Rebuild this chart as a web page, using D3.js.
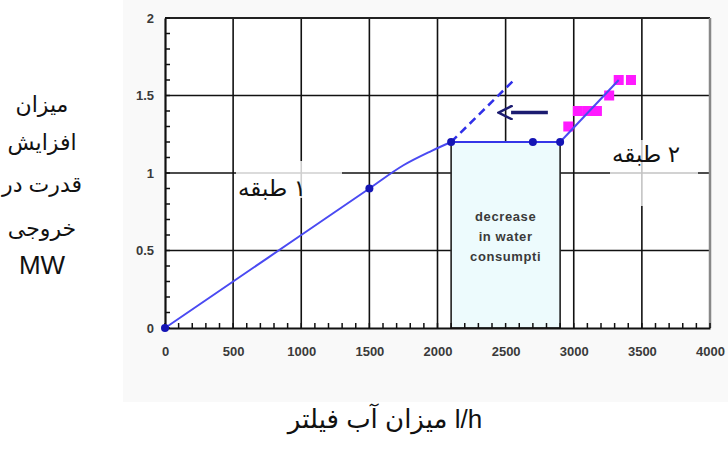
<!DOCTYPE html>
<html><head><meta charset="utf-8">
<script src="https://cdn.jsdelivr.net/npm/d3@7"></script>
<style>body{margin:0;background:#fff}</style>
</head><body>
<svg id="c" width="728" height="450"></svg>
<script>
// ---- data ----
const xTicks = [0,500,1000,1500,2000,2500,3000,3500,4000];
const yTicks = [0,0.5,1,1.5,2];
const yTickLabels = ["0","0.5","1","1.5","2"];
const stage1X = [0,500,1000,1500,1750,1950,2100];
const stage1Y = [0,0.3,0.6,0.9,1.05,1.14,1.2];
const stage1MarkX = [0,1500,2100];
const stage1MarkY = [0,0.9,1.2];
const dashedX = [2100,2550];
const dashedY = [1.2,1.59];
const plateauX = [2100,2900];
const plateauY = [1.2,1.2];
const plateauMarkX = [2700,2900];
const plateauMarkY = [1.2,1.2];
const stage2X = [2900,3330];
const stage2Y = [1.2,1.6];
const squaresX = [2960,3030,3100,3170,3260,3330,3420];
const squaresY = [1.3,1.4,1.4,1.4,1.5,1.6,1.6];
const boxRange = [2100,2900];
const boxTop = 1.2;
const arrowX = [2810,2540];
const arrowY = [1.39,1.39];
const boxText = ["decrease","in water","consumpti"];
const stage1Label = "۱ طبقه";
const stage2Label = "۲ طبقه";
const yTitle = ["میزان","افزایش","قدرت در","خروجی","MW"];
const xTitle = "میزان آب فیلتر l/h";

const svg = d3.select("#c");
const x = d3.scaleLinear().domain([0,4000]).range([165,710]);
const y = d3.scaleLinear().domain([0,2]).range([328,18]);
const sans = "Liberation Sans, Arial, sans-serif";
const farsi = "Liberation Sans, DejaVu Sans, sans-serif";

// background
svg.append("rect").attr("x",123).attr("y",0).attr("width",605).attr("height",402).attr("fill","#f9f9f9");
svg.append("rect").attr("x",x(0)).attr("y",y(2)).attr("width",x(4000)-x(0)).attr("height",y(0)-y(2)).attr("fill","#fff");

// grid
const g = svg.append("g");
g.selectAll(".vg").data(xTicks.filter(d=>d>0&&d<4000)).enter().append("line")
  .attr("x1",d=>x(d)).attr("x2",d=>x(d)).attr("y1",y(0)).attr("y2",y(2))
  .attr("stroke","#111").attr("stroke-width",1.6);
g.selectAll(".hg").data(yTicks.filter(d=>d>0&&d<2)).enter().append("line")
  .attr("x1",x(0)).attr("x2",x(4000)).attr("y1",d=>y(d)).attr("y2",d=>y(d))
  .attr("stroke","#111").attr("stroke-width",1.6);

// box
svg.append("rect").attr("x",x(boxRange[0])).attr("y",y(boxTop))
  .attr("width",x(boxRange[1])-x(boxRange[0])).attr("height",y(0)-y(boxTop))
  .attr("fill","#edfbfd").attr("stroke","#222").attr("stroke-width",1.6);
svg.append("g").selectAll("text").data(boxText).enter().append("text")
  .attr("x",(x(boxRange[0])+x(boxRange[1]))/2).attr("y",(d,i)=>221+i*20)
  .attr("text-anchor","middle").attr("font-family",sans)
  .attr("font-size",13).attr("font-weight","bold").attr("letter-spacing",0.6).attr("fill","#3a3a3a").text(d=>d);

// label backgrounds (fade grid)
svg.append("rect").attr("x",236).attr("y",161).attr("width",106).attr("height",37).attr("fill","#fff").attr("opacity",0.8);
svg.append("rect").attr("x",610).attr("y",140).attr("width",88).attr("height",66).attr("fill","#fff").attr("opacity",0.75);

// frame
svg.append("line").attr("x1",x(0)).attr("x2",x(4000)).attr("y1",y(2)).attr("y2",y(2)).attr("stroke","#222").attr("stroke-width",2);
svg.append("line").attr("x1",x(4000)).attr("x2",x(4000)).attr("y1",y(2)).attr("y2",y(0)).attr("stroke","#888").attr("stroke-width",2.5);

// axes
const yAxis = d3.axisLeft(y).tickValues(yTicks).tickFormat((d,i)=>yTickLabels[i]).tickSize(0).tickPadding(11);
const ya = svg.append("g").attr("transform",`translate(${x(0)},0)`).call(yAxis);
ya.select(".domain").attr("stroke","#111").attr("stroke-width",2.2);
ya.selectAll("text").attr("font-family",sans).attr("font-size",13).attr("font-weight","bold").attr("fill","#3a3a3a");
const xAxis = d3.axisBottom(x).tickValues(xTicks).tickFormat(d3.format("d")).tickSize(0).tickPadding(19);
const xa = svg.append("g").attr("transform",`translate(0,${y(0)})`).call(xAxis);
xa.select(".domain").attr("stroke","#111").attr("stroke-width",2.2);
xa.selectAll("text").attr("font-family",sans).attr("font-size",13).attr("font-weight","bold").attr("fill","#3a3a3a");

// minor ticks
svg.append("g").selectAll("line").data(d3.range(0,4001,100)).enter().append("line")
  .attr("x1",d=>x(d)).attr("x2",d=>x(d)).attr("y1",y(0)).attr("y2",y(0)-5)
  .attr("stroke","#111").attr("stroke-width",1.5);
svg.append("g").selectAll("line").data(d3.range(0,21).map(i=>i/10)).enter().append("line")
  .attr("x1",x(0)).attr("x2",x(0)+5).attr("y1",d=>y(d)).attr("y2",d=>y(d))
  .attr("stroke","#111").attr("stroke-width",1.5);

// lines
const lineGen = d3.line().x(d=>x(d[0])).y(d=>y(d[1]));
const blue = "#4a4af2";
svg.append("path").datum(d3.zip(stage1X,stage1Y)).attr("d",lineGen.curve(d3.curveMonotoneX))
  .attr("fill","none").attr("stroke",blue).attr("stroke-width",2);
lineGen.curve(d3.curveLinear);
svg.append("path").datum(d3.zip(dashedX,dashedY)).attr("d",lineGen)
  .attr("fill","none").attr("stroke","#3030e8").attr("stroke-width",2.5).attr("stroke-dasharray","8,5");
svg.append("path").datum(d3.zip(plateauX,plateauY)).attr("d",lineGen)
  .attr("fill","none").attr("stroke","#3535e8").attr("stroke-width",2.2);

// magenta squares
svg.append("g").selectAll("rect").data(d3.zip(squaresX,squaresY)).enter().append("rect")
  .attr("x",d=>x(d[0])-5).attr("y",d=>y(d[1])-5).attr("width",10).attr("height",10)
  .attr("fill","#ff1aff");
svg.append("path").datum(d3.zip(stage2X,stage2Y)).attr("d",lineGen)
  .attr("fill","none").attr("stroke",blue).attr("stroke-width",2);

// markers
svg.append("g").selectAll("circle").data(d3.zip(stage1MarkX.concat(plateauMarkX),stage1MarkY.concat(plateauMarkY))).enter().append("circle")
  .attr("cx",d=>x(d[0])).attr("cy",d=>y(d[1])).attr("r",4).attr("fill","#1515b5");

// arrow
svg.append("defs").append("marker").attr("id","ah").attr("viewBox","0 0 10 10").attr("refX",1).attr("refY",5)
  .attr("markerWidth",4.5).attr("markerHeight",4.5).attr("orient","auto").attr("markerUnits","strokeWidth")
  .append("path").attr("d","M0,0.5 L9,5 L0,9.5").attr("fill","none").attr("stroke","#1c1c70").attr("stroke-width",1.6);
svg.append("path").datum(d3.zip(arrowX,arrowY)).attr("d",lineGen)
  .attr("fill","none").attr("stroke","#1c1c70").attr("stroke-width",3.5).attr("marker-end","url(#ah)");

// stage labels
svg.append("text").attr("x",272).attr("y",196).attr("text-anchor","middle").attr("direction","rtl")
  .attr("font-family",farsi).attr("font-size",23).attr("fill","#111").text(stage1Label);
svg.append("text").attr("x",646).attr("y",162).attr("text-anchor","middle").attr("direction","rtl")
  .attr("font-family",farsi).attr("font-size",23).attr("fill","#111").text(stage2Label);

// y title
svg.append("g").selectAll("text").data(yTitle).enter().append("text")
  .attr("x",42).attr("y",(d,i)=>[112,150,192,236,274][i]).attr("text-anchor","middle")
  .attr("font-family",farsi).attr("font-size",(d,i)=>i===4?26:22).attr("fill","#111").text(d=>d);

// x title
svg.append("text").attr("x",385).attr("y",428).attr("text-anchor","middle")
  .attr("font-family",farsi).attr("font-size",26).attr("fill","#111").text(xTitle);
</script>
</body></html>
